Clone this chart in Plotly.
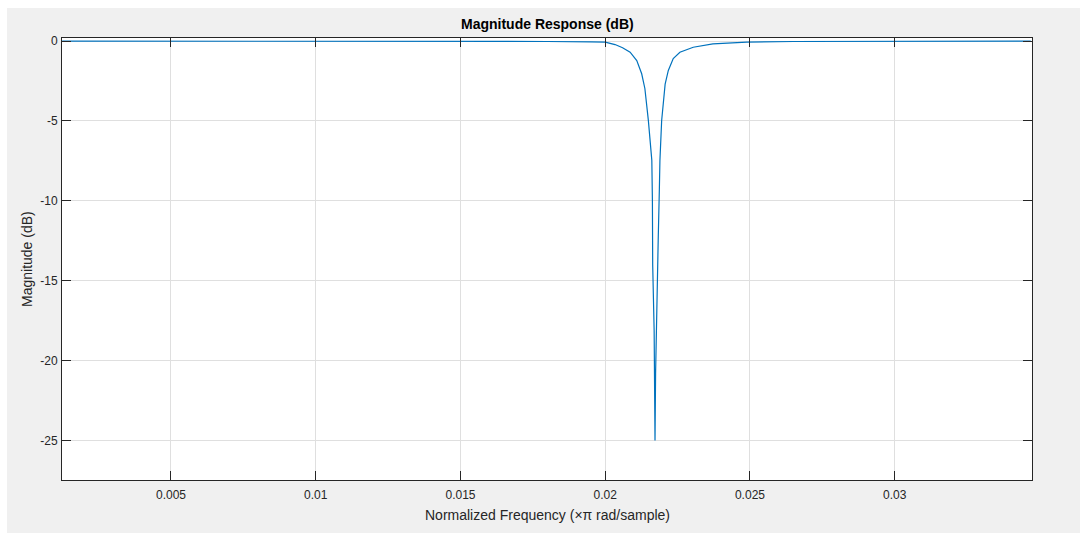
import plotly.graph_objects as go

# Normalized frequency (x pi rad/sample) and magnitude (dB)
freq = [0.00124, 0.005, 0.010, 0.015, 0.018, 0.0195, 0.02, 0.02034, 0.02060, 0.02086,
        0.02109, 0.02126, 0.02137, 0.02149, 0.02161, 0.02163, 0.02164, 0.02169,
        0.02170, 0.02172, 0.02174, 0.02178, 0.02183, 0.02187, 0.02189, 0.02195,
        0.02207, 0.02218, 0.02235, 0.02258, 0.02304, 0.02372, 0.02489, 0.0265,
        0.030, 0.0347]
mag_db = [0.0, 0.0, 0.0, -0.01, -0.03, -0.05, -0.07, -0.22, -0.42, -0.7,
          -1.22, -2.05, -2.97, -4.97, -7.47, -9.97, -14.0, -18.1,
          -20.8, -25.0, -20.8, -16.4, -12.5, -9.3, -7.47, -4.97,
          -2.7, -1.84, -1.1, -0.7, -0.39, -0.18, -0.07, -0.03,
          -0.01, 0.0]

x_ticks = [0.005, 0.01, 0.015, 0.02, 0.025, 0.03]
x_tick_text = ["0.005", "0.01", "0.015", "0.02", "0.025", "0.03"]
y_ticks = [0, -5, -10, -15, -20, -25]
y_tick_text = ["0", "-5", "-10", "-15", "-20", "-25"]

title_text = "<b>Magnitude Response (dB)</b>"
x_label = "Normalized Frequency (×π rad/sample)"
y_label = "Magnitude (dB)"

FONT = "Liberation Sans, Arial, Helvetica, sans-serif"
AX = "#262626"

fig = go.Figure()
fig.add_trace(go.Scatter(x=freq, y=mag_db, mode="lines",
                         line=dict(color="#0072BD", width=1.2),
                         hoverinfo="x+y", showlegend=False))

L, R, T, B = 62, 1032, 38, 480
W, H = 1080, 533
pw, ph = R - L, B - T

axis_common = dict(showgrid=True, gridcolor="#dfdfdf", gridwidth=1,
                   zeroline=False, showline=True, linecolor=AX, linewidth=1,
                   mirror="ticks", ticks="inside", ticklen=9, tickcolor=AX,
                   tickwidth=1, tickfont=dict(family=FONT, size=12, color="#262626"))

fig.update_layout(
    width=W, height=H,
    margin=dict(l=L, r=W - R, t=T, b=H - B, pad=0),
    paper_bgcolor="#f0f0f0", plot_bgcolor="#ffffff",
    font=dict(family=FONT, color="#262626"),
    xaxis=dict(range=[0.001235, 0.034743], tickvals=x_ticks, ticktext=x_tick_text,
               ticklabelstandoff=4, **axis_common),
    yaxis=dict(range=[-27.48, 0.19], tickvals=y_ticks, ticktext=y_tick_text,
               ticklabelstandoff=1, **axis_common),
    shapes=[
        dict(type="rect", xref="paper", yref="paper", layer="below",
             x0=(0 - L) / pw, x1=(7 - L) / pw, y0=(B - H) / ph, y1=(B - 0) / ph,
             fillcolor="#ffffff", line=dict(width=0)),
        dict(type="rect", xref="paper", yref="paper", layer="below",
             x0=(0 - L) / pw, x1=(W - L) / pw, y0=(B - 8) / ph, y1=(B - 0) / ph,
             fillcolor="#ffffff", line=dict(width=0)),
    ],
    annotations=[
        dict(text=title_text, xref="paper", yref="paper", x=0.5, y=(B - 24) / ph,
             xanchor="center", yanchor="middle", showarrow=False,
             font=dict(family=FONT, size=14, color="#000000")),
        dict(text=x_label, xref="paper", yref="paper", x=0.5, y=(B - 515) / ph,
             xanchor="center", yanchor="middle", showarrow=False,
             font=dict(family=FONT, size=14, color="#262626")),
        dict(text=y_label, xref="paper", yref="paper", x=(27 - L) / pw, y=0.5,
             xanchor="center", yanchor="middle", showarrow=False, textangle=-90,
             font=dict(family=FONT, size=14, color="#262626")),
    ],
)

fig.write_html("out.html")
